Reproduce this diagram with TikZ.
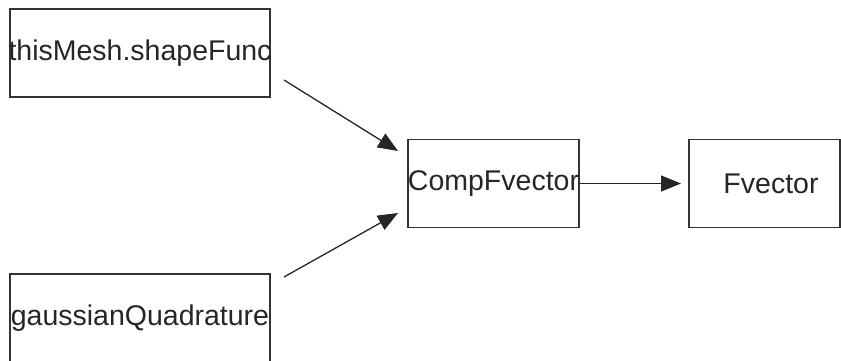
\documentclass[tikz,border=0pt]{standalone}
\usepackage{fontspec}
\setmainfont{Liberation Sans}
\usetikzlibrary{arrows.meta}
% label that does not widen its box
\newcommand{\blocktext}[1]{\makebox[0pt]{#1}}
\begin{document}
\begin{tikzpicture}[x=1pt,y=-1pt,
  block/.style={draw=black!80, line width=1.5pt, rectangle, inner sep=0pt,
    minimum height=88pt, font=\fontsize{28.5}{32}\selectfont, text=black!85},
  flow/.style={draw=black!85, line width=1.3pt,
    -{Triangle[length=20pt,width=16pt]}}]
  \useasboundingbox (0,0) rectangle (841,360);
  \clip (0,0) rectangle (841,360);

  % blocks
  \node[block, minimum width=260pt] (mesh)  at (140,53)      {\blocktext{thisMesh.shapeFunc}};
  \node[block, minimum width=260pt] (gauss) at (140,318)     {\blocktext{gaussianQuadrature}};
  \node[block, minimum width=171pt] (comp)  at (493.5,183.5) {\blocktext{CompFvector}};
  \node[block, minimum width=151pt] (fvec)  at (764.5,183.5) {\blocktext{\hspace*{13pt}Fvector}};

  % free ends of the connectors, kept clear of the blocks
  \coordinate (meshout)  at (284,80);
  \coordinate (compin1)  at (398,151);
  \coordinate (gaussout) at (284,277);
  \coordinate (compin2)  at (398,213);
  \coordinate (fvecin)   at (681,183.5);

  % connectors
  \draw[flow] (meshout) -- (compin1);
  \draw[flow] (gaussout) -- (compin2);
  \draw[flow] (comp.east) -- (fvecin);
\end{tikzpicture}
\end{document}
